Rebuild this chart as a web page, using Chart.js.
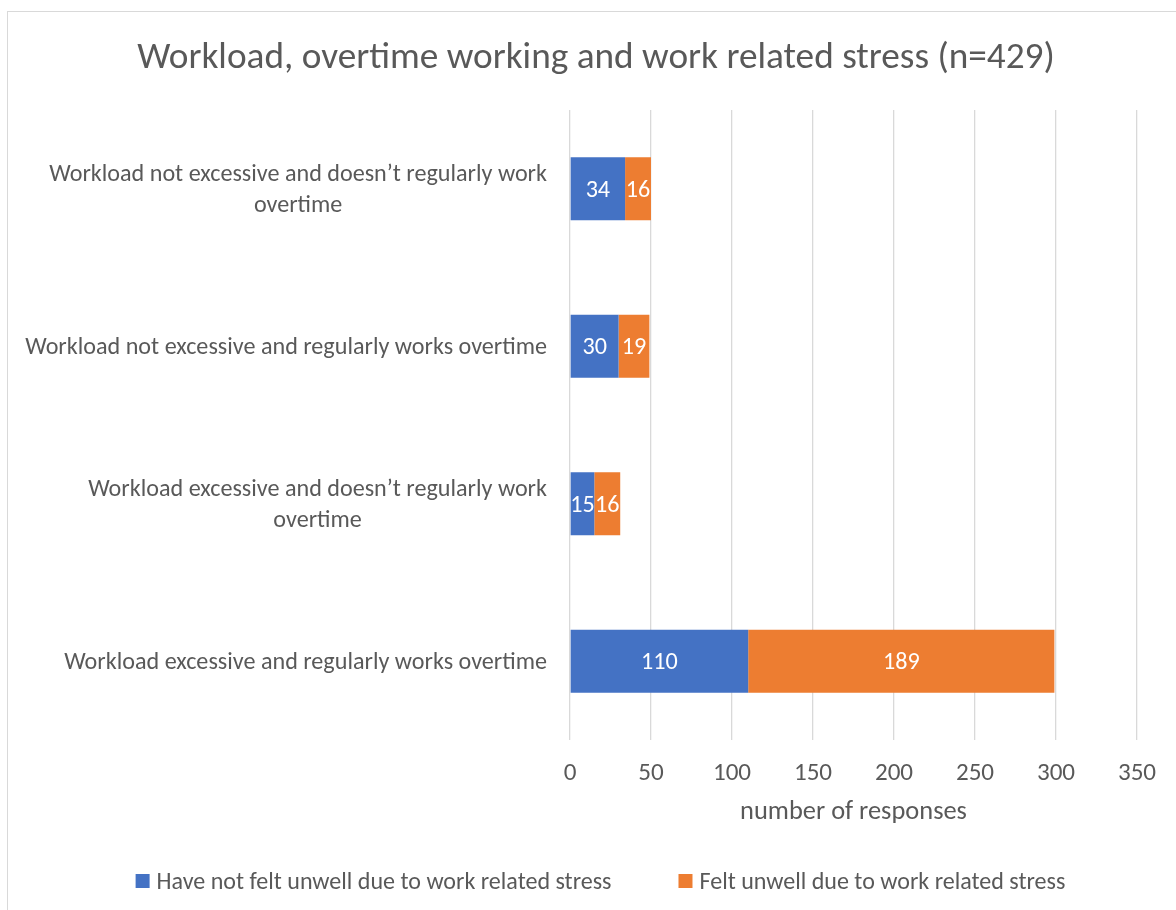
<!DOCTYPE html>
<html><head><meta charset="utf-8">
<script src="https://cdn.jsdelivr.net/npm/chart.js@4.4.0/dist/chart.umd.min.js"></script>
<style>
html,body{margin:0;padding:0;background:#fff;overflow:hidden;width:1176px;height:910px}
#frame{position:absolute;left:7px;top:11px;width:1300px;height:1000px;border:1px solid #d9d9d9;box-sizing:border-box}
#wrap{position:absolute;left:0;top:0;width:1176px;height:910px}
</style></head>
<body><div id="frame"></div><div id="wrap"><canvas id="c" width="1176" height="910"></canvas></div>
<script>
const titleText = 'Workload, overtime working and work related stress (n=429)';
const categories = [
  ['Workload not excessive and doesn\u2019t regularly work', 'overtime'],
  'Workload not excessive and regularly works overtime',
  ['Workload excessive and doesn\u2019t regularly work', 'overtime'],
  'Workload excessive and regularly works overtime'
];
const notUnwell = [34, 30, 15, 110];
const feltUnwell = [16, 19, 16, 189];
const seriesNames = ['Have not felt unwell due to work related stress', 'Felt unwell due to work related stress'];
const seriesColors = ['#4472C4', '#ED7D31'];
const xTicks = [0, 50, 100, 150, 200, 250, 300, 350];
const axisTitle = 'number of responses';

const FAM = 'Carlito, Lato, "Open Sans", sans-serif';
const TXT = '#595959';
const mctx = document.createElement('canvas').getContext('2d');
function fit(text, target) { mctx.font = '100px ' + FAM; return 100 * target / mctx.measureText(text).width; }

const titleSize = fit(titleText, 918);
const ySize = fit(categories[1], 522);
const axisSize = fit(axisTitle, 227);
const legendSize = fit(seriesNames[0], 455);
const tickSize = axisSize * 0.95;
const valSize = ySize;

const yLabelPlugin = {
  id: 'yLabels',
  afterDraw(chart) {
    const ctx = chart.ctx, y = chart.scales.y;
    ctx.save();
    ctx.font = ySize + 'px ' + FAM;
    ctx.fillStyle = TXT;
    ctx.textAlign = 'center';
    ctx.textBaseline = 'middle';
    const right = 547, lh = 31;
    categories.forEach((lab, i) => {
      const lines = Array.isArray(lab) ? lab : [lab];
      const w = Math.max(...lines.map(l => ctx.measureText(l).width));
      const cx = right - w / 2;
      const cy = y.getPixelForValue(i) + 1.5;
      const y0 = cy - (lines.length - 1) * lh / 2;
      lines.forEach((l, k) => ctx.fillText(l, cx, y0 + k * lh));
    });
    ctx.restore();
  }
};

const valuePlugin = {
  id: 'values',
  afterDatasetsDraw(chart) {
    const ctx = chart.ctx;
    ctx.save();
    ctx.font = valSize + 'px ' + FAM;
    ctx.fillStyle = '#ffffff';
    ctx.textAlign = 'center';
    ctx.textBaseline = 'middle';
    chart.data.datasets.forEach((ds, di) => {
      chart.getDatasetMeta(di).data.forEach((el, i) => {
        const p = el.getProps(['x', 'y', 'base'], true);
        ctx.fillText(String(ds.data[i]), (p.x + p.base) / 2, p.y + 2);
      });
    });
    ctx.restore();
  }
};

const legendPlugin = {
  id: 'customLegend',
  afterDraw(chart) {
    const ctx = chart.ctx;
    ctx.save();
    ctx.font = legendSize + 'px ' + FAM;
    ctx.textBaseline = 'middle';
    ctx.textAlign = 'left';
    const box = 14, gap = 7, between = 67, cy = 881;
    const widths = seriesNames.map(s => ctx.measureText(s).width);
    const total = widths.reduce((a, w) => a + box + gap + w, 0) + between;
    let x = 600.5 - total / 2;
    seriesNames.forEach((s, i) => {
      ctx.fillStyle = seriesColors[i];
      ctx.fillRect(x, cy - box / 2, box, box);
      ctx.fillStyle = TXT;
      ctx.fillText(s, x + box + gap, cy + 1.5);
      x += box + gap + widths[i] + between;
    });
    ctx.restore();
  }
};

const titleLH = titleSize * 1.2;
const axisLH = axisSize * 1.2;
const tickLH = tickSize * 1.2;

new Chart(document.getElementById('c'), {
  type: 'bar',
  data: {
    labels: categories,
    datasets: [
      { label: seriesNames[0], data: notUnwell, backgroundColor: seriesColors[0] },
      { label: seriesNames[1], data: feltUnwell, backgroundColor: seriesColors[1] }
    ]
  },
  options: {
    indexAxis: 'y',
    responsive: false,
    animation: false,
    events: [],
    datasets: { bar: { categoryPercentage: 0.8, barPercentage: 0.5 } },
    layout: { padding: { left: 55, right: 39, top: 0, bottom: 50 } },
    plugins: {
      title: {
        display: true, text: titleText, color: TXT,
        font: { family: FAM, size: titleSize, weight: 'normal' },
        padding: { top: 59 - titleLH / 2, bottom: 110 - 59 - titleLH / 2 }
      },
      legend: { display: false },
      tooltip: { enabled: false }
    },
    scales: {
      x: {
        stacked: true, min: 0, max: 350,
        afterBuildTicks(s) { s.ticks = xTicks.map(v => ({ value: v })); },
        afterFit(s) { s.height = 120; },
        ticks: { color: TXT, font: { family: FAM, size: tickSize }, padding: 774 - 740 - tickLH / 2 },
        grid: { color: '#d9d9d9', drawTicks: false, lineWidth: 1.3 },
        border: { display: false },
        title: {
          display: true, text: axisTitle, color: TXT,
          font: { family: FAM, size: axisSize },
          padding: { top: 4, bottom: 860 - 812 - axisLH / 2 }
        }
      },
      y: {
        stacked: true,
        afterFit(s) { s.width = 515; },
        ticks: { display: false },
        grid: { display: false },
        border: { display: false }
      }
    }
  },
  plugins: [yLabelPlugin, valuePlugin, legendPlugin]
});
</script>
</body></html>
